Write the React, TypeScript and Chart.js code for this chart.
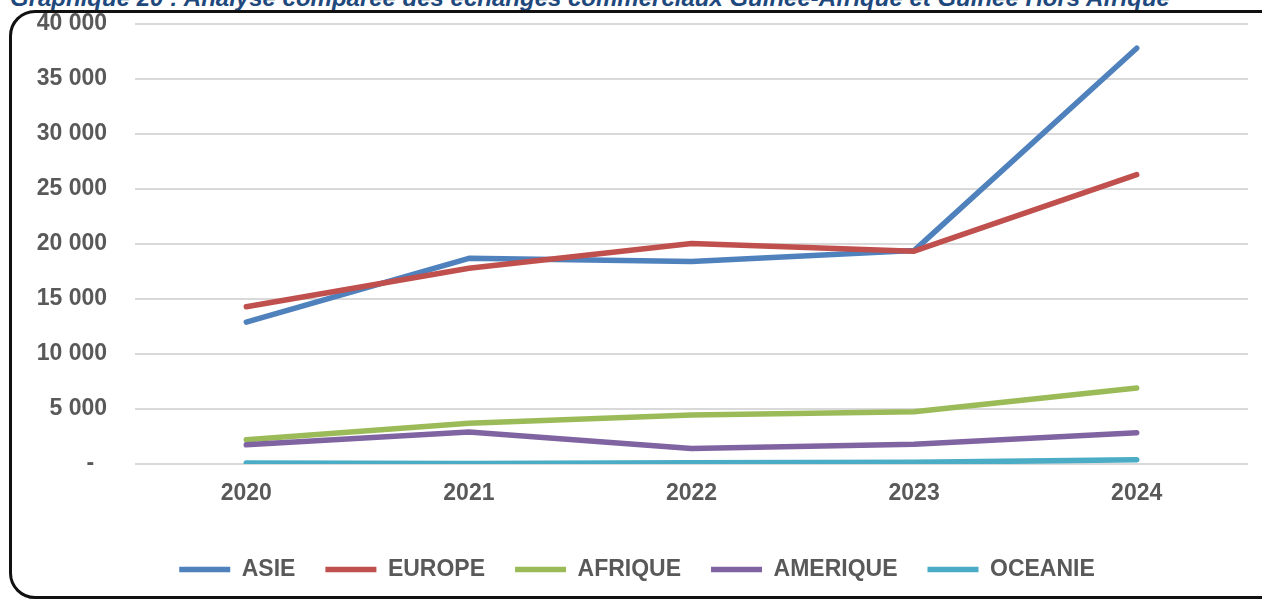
import React, { useEffect, useRef } from "react";
import { Chart, registerables } from "chart.js";

Chart.register(...registerables);

const TITLE = "Graphique 20 : Analyse comparée des échanges commerciaux Guinée-Afrique et Guinée Hors Afrique";
const categories = ["2020", "2021", "2022", "2023", "2024"];
const seriesNames = ["ASIE", "EUROPE", "AFRIQUE", "AMERIQUE", "OCEANIE"];
const asie = [12900, 18700, 18400, 19400, 37800];
const europe = [14300, 17800, 20050, 19350, 26300];
const afrique = [2200, 3700, 4450, 4750, 6900];
const amerique = [1750, 2900, 1400, 1800, 2850];
const oceanie = [100, 50, 120, 150, 380];
const yTickValues = [0, 5000, 10000, 15000, 20000, 25000, 30000, 35000, 40000];
const yTickLabels = ["-  ", "5 000", "10 000", "15 000", "20 000", "25 000", "30 000", "35 000", "40 000"];
const colors = ["#4f81bd", "#c0504d", "#9bbb59", "#8064a2", "#4bacc6"];

const FONT = "'Liberation Sans', Arial, sans-serif";
const TEXT = "#595959";

export default function App() {
  const ref = useRef<HTMLCanvasElement | null>(null);

  useEffect(() => {
    if (!ref.current) return;
    const values = [asie, europe, afrique, amerique, oceanie];
    const chart = new Chart(ref.current, {
      type: "line",
      data: {
        labels: categories,
        datasets: seriesNames.map((name, i) => ({
          label: name,
          data: values[i],
          borderColor: colors[i],
          backgroundColor: colors[i],
          borderWidth: 5.5,
          borderCapStyle: "round" as const,
          borderJoinStyle: "round" as const,
          pointRadius: 0,
          pointHoverRadius: 0,
          tension: 0,
          fill: false,
          order: seriesNames.length - i,
        })),
      },
      options: {
        animation: false,
        responsive: false,
        devicePixelRatio: 1,
        events: [],
        layout: { padding: { left: 26, right: 14, top: 24, bottom: 8 } },
        plugins: {
          tooltip: { enabled: false },
          title: { display: false },
          legend: {
            display: true,
            position: "bottom",
            labels: {
              usePointStyle: true,
              pointStyle: "line",
              pointStyleWidth: 51,
              padding: 30,
              color: TEXT,
              font: { family: FONT, size: 23, weight: "bold" },
              sort: (a: any, b: any) => a.datasetIndex - b.datasetIndex,
            },
          },
        },
        scales: {
          x: {
            type: "category",
            offset: true,
            grid: { display: false, drawTicks: false },
            border: { display: false },
            ticks: {
              color: TEXT,
              padding: 16,
              font: { family: FONT, size: 23, weight: "bold" },
            },
            afterFit: (s: any) => {
              s.height = 64;
            },
          },
          y: {
            min: 0,
            max: 40000,
            afterBuildTicks: (s: any) => {
              s.ticks = yTickValues.map((v) => ({ value: v }));
            },
            grid: { color: "#d9d9d9", lineWidth: 2, drawTicks: false },
            border: { display: false },
            ticks: {
              color: TEXT,
              padding: 28,
              font: { family: FONT, size: 23, weight: "bold" },
              callback: (v: any) => {
                const idx = yTickValues.indexOf(Number(v));
                return idx >= 0 ? yTickLabels[idx] : "";
              },
            },
            afterFit: (s: any) => {
              s.width = 109;
              s.paddingTop = 0;
              s.paddingBottom = 0;
            },
          },
        },
      },
    });
    return () => chart.destroy();
  }, []);

  return (
    <div
      style={{
        position: "fixed",
        left: 0,
        top: 0,
        width: 1262,
        height: 599,
        overflow: "hidden",
        background: "#ffffff",
      }}
    >
      <div
        style={{
          position: "absolute",
          left: 10,
          top: -14,
          fontFamily: FONT,
          fontSize: 24,
          fontWeight: "bold",
          fontStyle: "italic",
          color: "#1f497d",
          whiteSpace: "nowrap",
          lineHeight: 1,
        }}
      >
        {TITLE}
      </div>
      <div
        style={{
          position: "absolute",
          left: 9,
          top: 10,
          width: 1290,
          height: 589,
          boxSizing: "border-box",
          border: "3px solid #111111",
          borderRadius: 26,
          background: "#ffffff",
        }}
      />
      <canvas
        ref={ref}
        width={1262}
        height={599}
        style={{ position: "absolute", left: 0, top: 0, width: 1262, height: 599 }}
      />
    </div>
  );
}
